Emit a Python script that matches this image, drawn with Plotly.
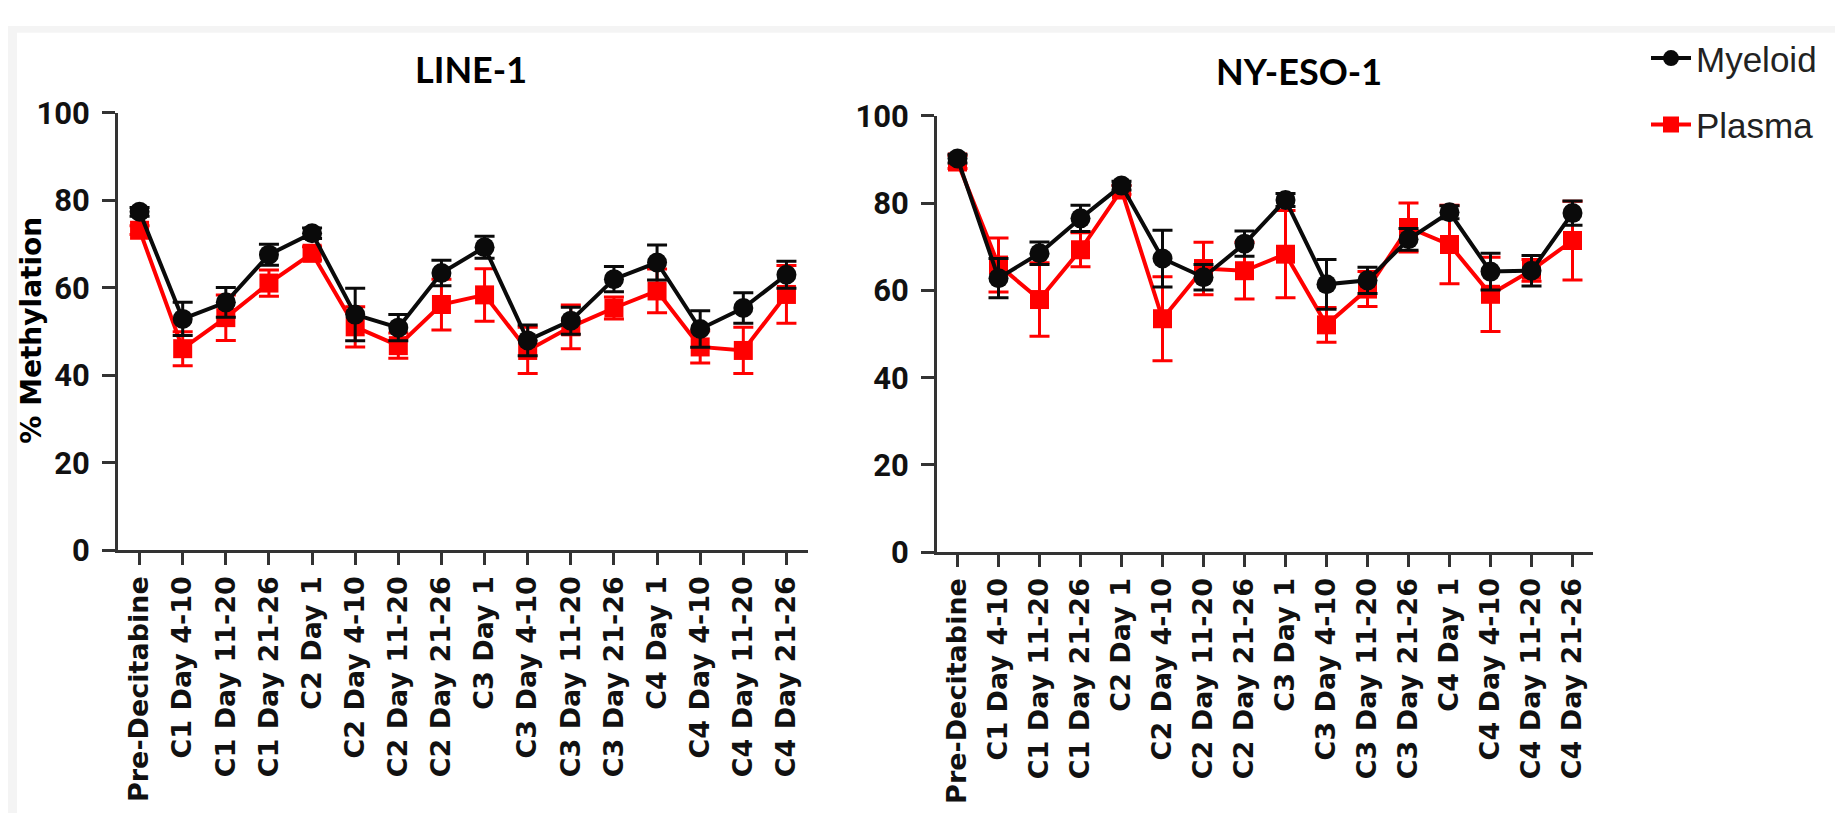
import plotly.graph_objects as go

W, H = 1843, 824

categories = ["Pre-Decitabine", "C1 Day 4-10", "C1 Day 11-20", "C1 Day 21-26",
              "C2 Day 1", "C2 Day 4-10", "C2 Day 11-20", "C2 Day 21-26",
              "C3 Day 1", "C3 Day 4-10", "C3 Day 11-20", "C3 Day 21-26",
              "C4 Day 1", "C4 Day 4-10", "C4 Day 11-20", "C4 Day 21-26"]

line1_myeloid = [77.4, 52.9, 56.7, 67.6, 72.5, 53.9, 50.9, 63.4, 69.3, 48.0, 52.5, 62.0, 65.8, 50.6, 55.4, 63.0]
line1_myeloid_err = [1.0, 3.8, 3.4, 2.4, 1.2, 6.0, 3.0, 2.9, 2.5, 3.5, 3.1, 2.9, 4.0, 4.2, 3.5, 3.1]
line1_plasma = [73.2, 46.1, 53.2, 61.1, 67.9, 51.1, 46.8, 56.2, 58.4, 45.7, 51.1, 55.4, 59.3, 46.5, 45.7, 58.5]
line1_plasma_err = [1.0, 3.9, 5.2, 3.0, 1.5, 4.6, 2.9, 5.8, 6.0, 5.3, 5.0, 2.5, 5.0, 3.7, 5.3, 6.6]

nyeso_myeloid = [90.2, 62.8, 68.5, 76.5, 84.0, 67.3, 63.0, 70.7, 80.7, 61.4, 62.3, 71.7, 77.9, 64.3, 64.5, 77.7]
nyeso_myeloid_err = [1.0, 4.5, 2.6, 3.0, 1.0, 6.5, 2.9, 2.9, 1.5, 5.7, 3.0, 2.5, 1.5, 4.2, 3.5, 2.8]
nyeso_plasma = [89.4, 65.8, 57.9, 69.3, 83.0, 53.5, 65.0, 64.5, 68.3, 52.1, 60.3, 74.4, 70.5, 59.1, 64.6, 71.4]
nyeso_plasma_err = [1.5, 6.2, 8.4, 3.9, 1.0, 9.6, 6.0, 6.5, 10.0, 4.0, 4.0, 5.6, 9.0, 8.5, 2.5, 9.0]

y_ticks = [0, 20, 40, 60, 80, 100]
titles = ["LINE-1", "NY-ESO-1"]
y_title = "% Methylation"

BLACK = "#0a0a0a"
RED = "#ff0000"


def px_x(p):
    return p / W


def px_y(p):
    return 1 - p / H


fig = go.Figure()


def add_pair(xa, ya, myel, myel_err, plas, plas_err, show):
    fig.add_trace(go.Scatter(
        x=categories, y=plas, name="Plasma", mode="lines+markers",
        line=dict(color=RED, width=4),
        marker=dict(symbol="square", size=19, color=RED),
        error_y=dict(type="data", array=plas_err, color=RED, thickness=3, width=10),
        xaxis=xa, yaxis=ya, showlegend=show, legendrank=2, legendgroup="p"))
    fig.add_trace(go.Scatter(
        x=categories, y=myel, name="Myeloid", mode="lines+markers",
        line=dict(color=BLACK, width=4),
        marker=dict(symbol="circle", size=20, color=BLACK),
        error_y=dict(type="data", array=myel_err, color=BLACK, thickness=3, width=10),
        xaxis=xa, yaxis=ya, showlegend=show, legendrank=1, legendgroup="m"))


add_pair("x", "y", line1_myeloid, line1_myeloid_err, line1_plasma, line1_plasma_err, True)
add_pair("x2", "y2", nyeso_myeloid, nyeso_myeloid_err, nyeso_plasma, nyeso_plasma_err, False)

AX = "#333333"
xcommon = dict(type="category", categoryorder="array", categoryarray=categories,
               range=[-0.5, 15.5], showline=True, linewidth=3, linecolor=AX,
               ticks="outside", ticklen=12, tickwidth=3, tickcolor=AX,
               tickangle=-90, showgrid=False, zeroline=False,
               tickfont=dict(family="DejaVu Sans", size=27, color="#111111", weight="bold"))
ycommon = dict(range=[0, 100], tickvals=y_ticks, showline=True, linewidth=3, linecolor=AX,
               ticks="outside", ticklen=13, tickwidth=3, tickcolor=AX,
               showgrid=False, zeroline=False, ticklabelstandoff=6,
               tickfont=dict(family="Roboto", size=31, color="#111111", weight="bold"))

fig.update_layout(
    width=W, height=H,
    margin=dict(l=0, r=0, t=0, b=0),
    paper_bgcolor="white", plot_bgcolor="white",
    xaxis=dict(domain=[px_x(110), px_x(800)], anchor="y", **xcommon),
    yaxis=dict(domain=[px_y(549), px_y(91)], anchor="x", **ycommon),
    xaxis2=dict(domain=[px_x(929), px_x(1585)], anchor="y2", **xcommon),
    yaxis2=dict(domain=[px_y(551), px_y(94)], anchor="x2", **ycommon),
    legend=dict(x=px_x(1638), y=px_y(3), xanchor="left", yanchor="top",
                font=dict(family="Liberation Sans, Arial, sans-serif", size=35, color="#222222"),
                tracegroupgap=18, bgcolor="rgba(0,0,0,0)", itemwidth=40),
    showlegend=True,
)

fig.add_annotation(text=titles[0], x=px_x(463), y=px_y(45), xref="paper", yref="paper",
                   showarrow=False, xanchor="center", yanchor="middle",
                   font=dict(family="Lato", size=36, color="#000000", weight="bold"))
fig.add_annotation(text=titles[1], x=px_x(1291), y=px_y(47), xref="paper", yref="paper",
                   showarrow=False, xanchor="center", yanchor="middle",
                   font=dict(family="Lato", size=36, color="#000000", weight="bold"))
fig.add_annotation(text=y_title, x=px_x(24), y=px_y(319), xref="paper", yref="paper",
                   showarrow=False, textangle=-90, xanchor="center", yanchor="middle",
                   font=dict(family="DejaVu Sans", size=28, color="#000000", weight="bold"))

# light grey frame strips (slide edge)
fig.add_shape(type="rect", xref="paper", yref="paper", x0=0, x1=1, y0=px_y(7), y1=1,
              fillcolor="#f4f4f4", line=dict(width=0), layer="below")
fig.add_shape(type="rect", xref="paper", yref="paper", x0=0, x1=px_x(9), y0=0, y1=1,
              fillcolor="#f4f4f4", line=dict(width=0), layer="below")

fig.write_html("out.html")
